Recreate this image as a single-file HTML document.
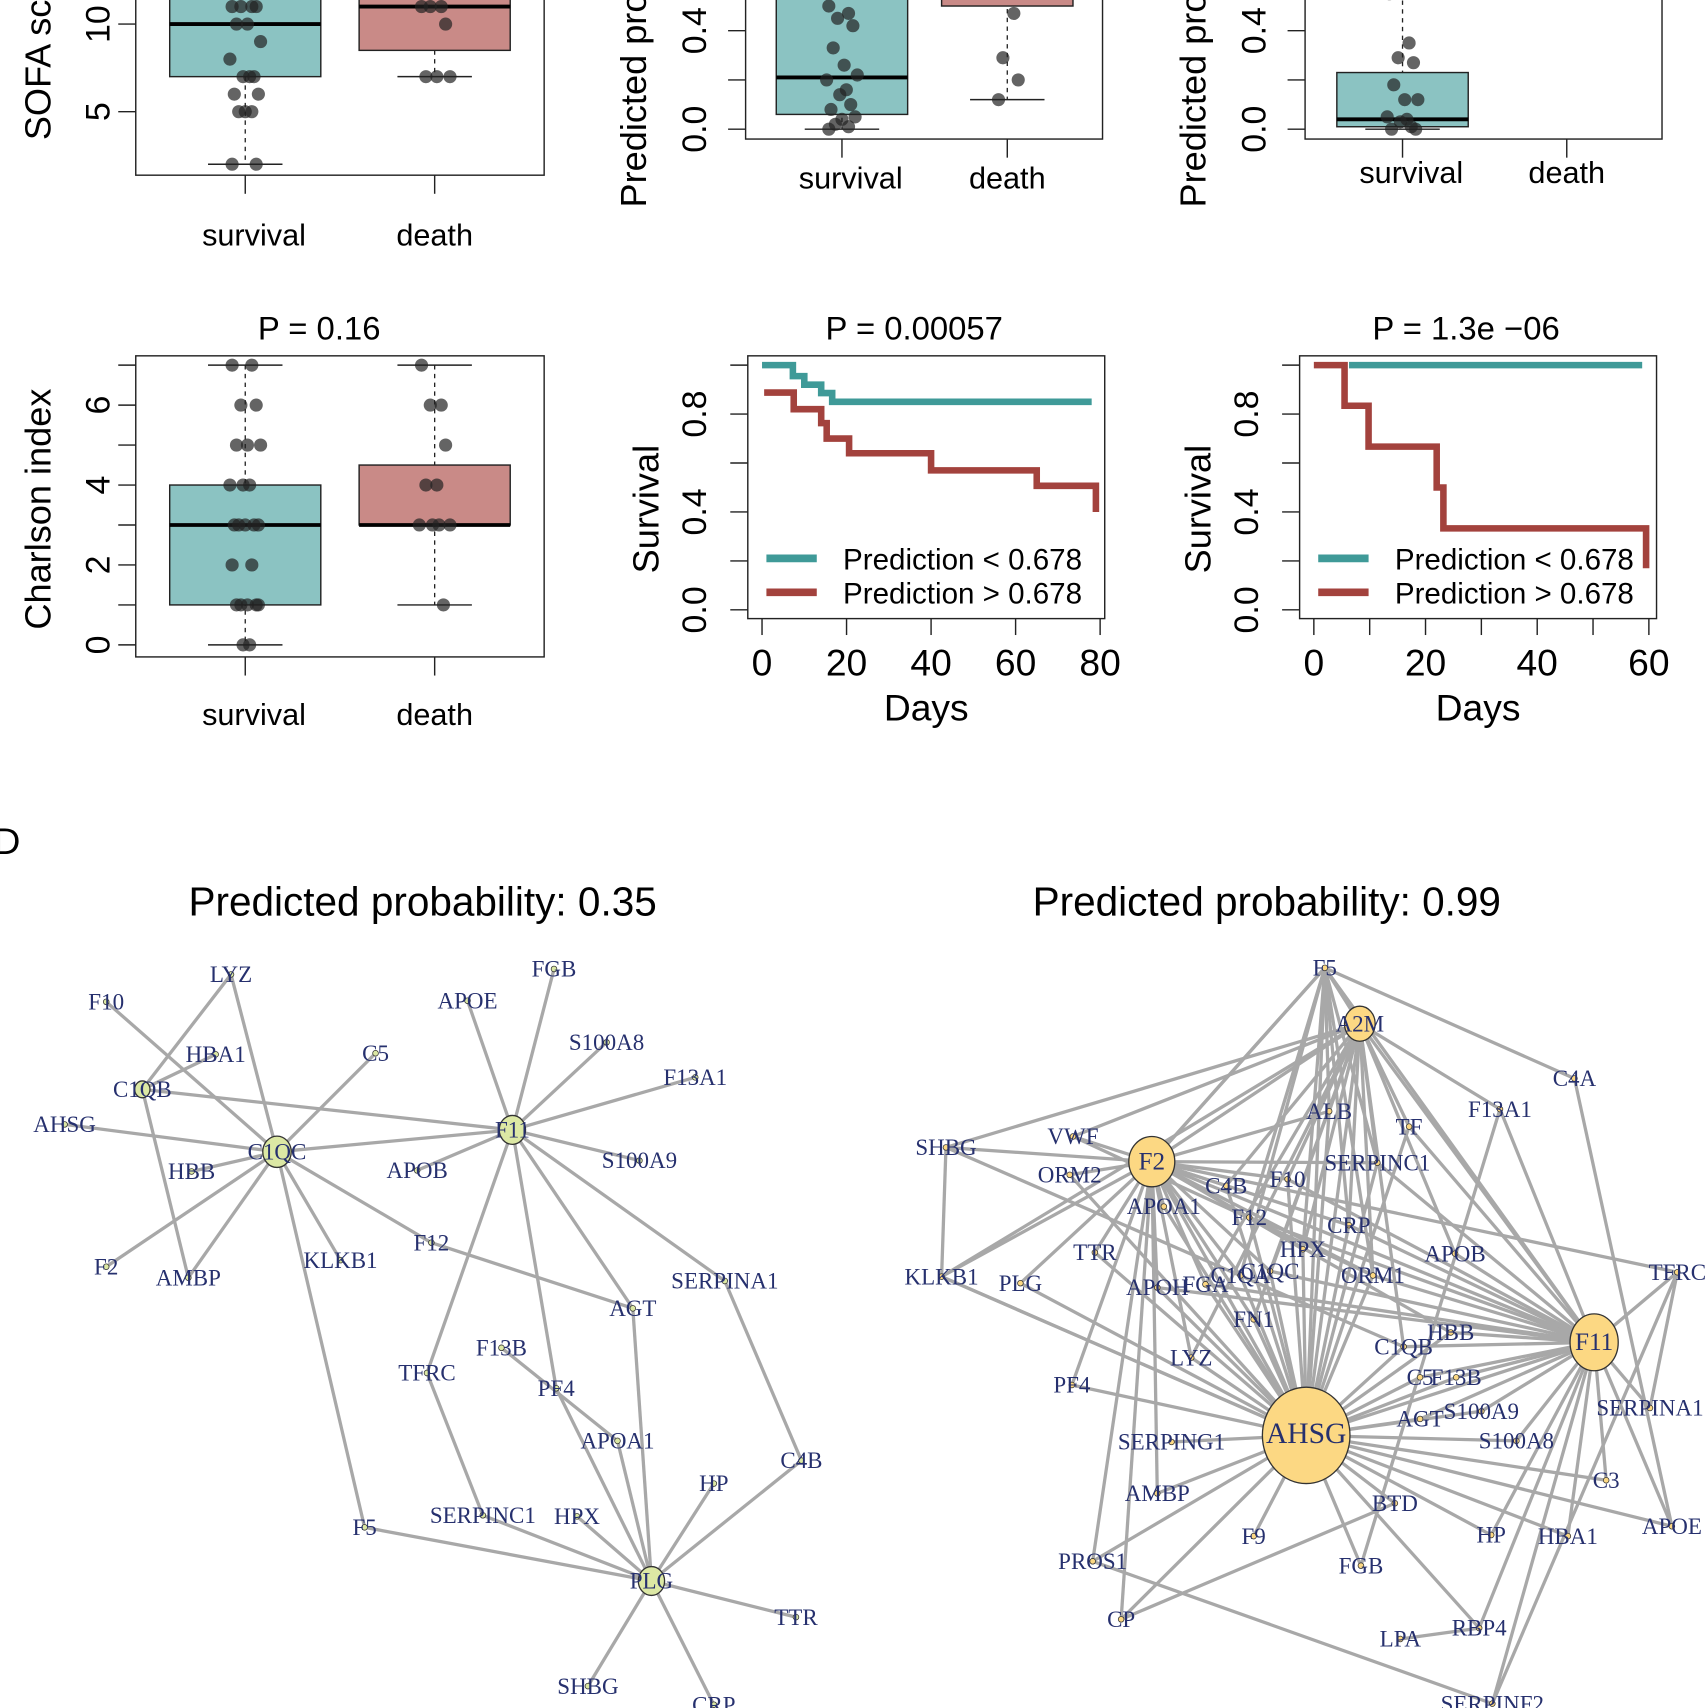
<!DOCTYPE html>
<html><head><meta charset="utf-8"><style>
html,body{margin:0;padding:0;background:#fff}
svg{display:block}
</style></head><body>
<svg id="fig" xmlns="http://www.w3.org/2000/svg" width="1708" height="1708" viewBox="0 0 1560 1560" font-family="Liberation Sans, sans-serif">
<text x="-6" y="780" font-size="34">D</text>
<text x="386" y="836" font-size="37" text-anchor="middle">Predicted probability: 0.35</text>
<text x="1157" y="836" font-size="37" text-anchor="middle">Predicted probability: 0.99</text>
</svg>
<script>
const NS='http://www.w3.org/2000/svg';
const svg=document.getElementById('fig');
function mk(tag,attrs,name,parent){
  const el=document.createElementNS(NS,tag);
  for(const k in attrs) el.setAttribute(k,attrs[k]);
  
  
  (parent||svg).appendChild(el);
  return el;
}
function txt(x,y,s,size,name,extra){
  const t=mk('text',Object.assign({x:x,y:y,'font-size':size},extra||{}),name);
  t.textContent=s;return t;
}

// ---------- Box plot data ----------
const sofaSurv=[11,11,11,11,10,10,9,8,7,7,7,6,6,5,5,5,2,2];
const sofaDeath=[11,11,11,10,7,7,7];
const sofaStats={s:[2,7,10,14,14],d:[7,8.5,11,14,14]};
const p2Surv=[0.5,0.47,0.45,0.42,0.33,0.26,0.22,0.2,0.16,0.14,0.1,0.08,0.05,0.04,0.02,0.01,0.0];
const p2Death=[0.56,0.47,0.29,0.2,0.12];
const p2Stats={s:[0,0.06,0.21,0.9,0.9],d:[0.12,0.5,0.9,0.95,0.95]};
const p3Surv=[0.55,0.35,0.29,0.27,0.18,0.12,0.12,0.05,0.04,0.03,0.01,0.0,0.0];
const p3Death=[];
const p3Stats={s:[0,0.01,0.04,0.23,0.7],d:null};
const chSurv=[7,7,6,6,5,5,5,4,4,4,3,3,3,3,3,2,2,1,1,1,1,1,0,0];
const chDeath=[7,6,6,5,4,4,3,3,3,3,1];
const chStats={s:[0,1,3,4,7],d:[1,3,3,4.5,7]};
const jit=[-12,6,-4,10,-8,2,14,-14,4,-2,8,-10,12,0,-6,6,-12,10,-4,2,-8,12,-2,4];

function boxPanel(o){
  const y=v=>o.y0-(v-o.v0)*o.k;
  mk('rect',{x:o.fx0,y:o.fy0,width:o.fx1-o.fx0,height:o.fy1-o.fy0,fill:'none',stroke:'#222','stroke-width':1.3},o.id+'-frame');
  const groups=[{st:o.st.s,pts:o.sv,cx:o.cx[0],fill:'#8bc3c2',n:'survival'},{st:o.st.d,pts:o.dv,cx:o.cx[1],fill:'#c98a87',n:'death'}];
  const clipId=o.id+'clip';
  const cp=mk('clipPath',{id:clipId},o.id+'-clip');
  mk('rect',{x:o.fx0,y:-200,width:o.fx1-o.fx0,height:o.fy1+200},o.id+'-clip-rect',cp);
  const g=mk('g',{'clip-path':'url(#'+clipId+')'},o.id+'-plot');
  groups.forEach(gr=>{
    if(gr.st){
      const [lo,q1,md,q3,hi]=gr.st;
      mk('line',{x1:gr.cx,x2:gr.cx,y1:y(hi),y2:y(lo),stroke:'#222','stroke-dasharray':'4,4','stroke-width':1.2},o.id+'-whisker-'+gr.n,g);
      mk('line',{x1:gr.cx-34,x2:gr.cx+34,y1:y(lo),y2:y(lo),stroke:'#222','stroke-width':1.3},o.id+'-whisker-cap-low-'+gr.n,g);
      mk('line',{x1:gr.cx-34,x2:gr.cx+34,y1:y(hi),y2:y(hi),stroke:'#222','stroke-width':1.3},o.id+'-whisker-cap-high-'+gr.n,g);
      mk('rect',{x:gr.cx-o.bw,y:y(q3),width:2*o.bw,height:y(q1)-y(q3),fill:gr.fill,stroke:'#222','stroke-width':1.3},o.id+'-box-'+gr.n,g);
      mk('line',{x1:gr.cx-o.bw,x2:gr.cx+o.bw,y1:y(md),y2:y(md),stroke:'#000','stroke-width':3.5},o.id+'-median-'+gr.n,g);
    }
    gr.pts.forEach((v,i)=>{
      mk('circle',{cx:gr.cx+jit[i%jit.length],cy:y(v),r:6,fill:'#222','fill-opacity':0.7},o.id+'-point-'+gr.n,g);
    });
  });
  o.ticks.forEach(t=>{
    mk('line',{x1:o.fx0,x2:o.fx0-16,y1:y(t),y2:y(t),stroke:'#222','stroke-width':1.3},o.id+'-y-tick');
  });
  o.tlabels.forEach(t=>{
    txt(o.tlx,y(t),o.fmt(t),31,o.id+'-y-tick-label',{transform:'rotate(-90 '+o.tlx+' '+y(t)+')','text-anchor':'middle'});
  });
  o.cx.forEach((c,i)=>{
    mk('line',{x1:c,x2:c,y1:o.fy1,y2:o.fy1+17,stroke:'#222','stroke-width':1.3},o.id+'-x-tick');
    txt(c+(i==0?8:0),o.catY,o.cats[i],28,o.id+'-x-tick-label',{'text-anchor':'middle'});
  });
  txt(o.ylx,o.yly,o.ylab,33,o.id+'-y-axis-title',{transform:'rotate(-90 '+o.ylx+' '+o.yly+')','text-anchor':'middle'});
  if(o.title) txt((o.fx0+o.fx1)/2-19,310,o.title,30,o.id+'-title',{'text-anchor':'middle'});
}
const cats=['survival','death'];
boxPanel({id:'sofa',fx0:124,fx1:497,fy0:-120,fy1:160,y0:102,v0:5,k:16,cx:[224,397],bw:69,st:sofaStats,sv:sofaSurv,dv:sofaDeath,ticks:[5,10],tlabels:[5,10],fmt:v=>String(v),tlx:100,catY:224,cats:cats,ylx:46,yly:40,ylab:'SOFA score'});
boxPanel({id:'prob1',fx0:681,fx1:1007,fy0:-120,fy1:127,y0:118,v0:0,k:225,cx:[769,920],bw:60,st:p2Stats,sv:p2Surv,dv:p2Death,ticks:[0,0.2,0.4],tlabels:[0,0.4],fmt:v=>v.toFixed(1),tlx:645,catY:172,cats:cats,ylx:590,yly:40,ylab:'Predicted probability'});
boxPanel({id:'prob2',fx0:1192,fx1:1518,fy0:-120,fy1:127,y0:118,v0:0,k:225,cx:[1281,1431],bw:60,st:p3Stats,sv:p3Surv,dv:p3Death,ticks:[0,0.2,0.4],tlabels:[0,0.4],fmt:v=>v.toFixed(1),tlx:1156,catY:167,cats:cats,ylx:1101,yly:40,ylab:'Predicted probability'});
boxPanel({id:'charlson',fx0:124,fx1:497,fy0:325,fy1:600,y0:589,v0:0,k:36.5,cx:[224,397],bw:69,st:chStats,sv:chSurv,dv:chDeath,ticks:[0,1,2,3,4,5,6,7],tlabels:[0,2,4,6],fmt:v=>String(v),tlx:100,catY:662,cats:cats,ylx:46,yly:465,ylab:'Charlson index',title:'P = 0.16'});

// ---------- KM data ----------
const km1Days=[0,7.3,10,14,16.6,78];
const km1Low=[1.0,0.955,0.92,0.886,0.85,0.85];
const km1HighDays=[0.5,7.5,14,15.3,20.6,40,65,79,79];
const km1High=[0.888,0.82,0.763,0.70,0.64,0.57,0.507,0.44,0.40];
const km2Days=[6.3,58.8];
const km2Low=[1.0,1.0];
const km2HighDays=[0,5.5,9.8,22,23.2,59.5,59.5];
const km2High=[1.0,0.834,0.667,0.5,0.333,0.333,0.17];

function kmPanel(o){
  const x=d=>o.x0+d*o.kx, y=v=>557-v*223.5;
  mk('rect',{x:o.fx0,y:325,width:326,height:240,fill:'none',stroke:'#222','stroke-width':1.3},o.id+'-frame');
  [0,0.2,0.4,0.6,0.8,1.0].forEach(t=>mk('line',{x1:o.fx0,x2:o.fx0-16,y1:y(t),y2:y(t),stroke:'#222','stroke-width':1.3},o.id+'-y-tick'));
  [0,0.4,0.8].forEach(t=>{const yy=y(t);txt(o.fx0-38,yy,t.toFixed(1),31,o.id+'-y-tick-label',{transform:'rotate(-90 '+(o.fx0-38)+' '+yy+')','text-anchor':'middle'});});
  o.xt.forEach(t=>mk('line',{x1:x(t),x2:x(t),y1:565,y2:580,stroke:'#222','stroke-width':1.3},o.id+'-x-tick'));
  o.xl.forEach(t=>txt(x(t),617,String(t),34,o.id+'-x-tick-label',{'text-anchor':'middle'}));
  txt(o.fx0+163,658,'Days',34,o.id+'-x-axis-title',{'text-anchor':'middle'});
  const ylx=o.fx0-93, yly=465;
  txt(ylx,yly,'Survival',33,o.id+'-y-axis-title',{transform:'rotate(-90 '+ylx+' '+yly+')','text-anchor':'middle','dominant-baseline':'central'});
  txt(o.fx0+152,310,o.title,30,o.id+'-title',{'text-anchor':'middle'});
  function step(days,vals,col,name){
    let d='M'+x(days[0])+' '+y(vals[0]);
    for(let i=1;i<days.length;i++){d+=' H'+x(days[i])+' V'+y(vals[i]);}
    mk('path',{d:d,fill:'none',stroke:col,'stroke-width':6},o.id+'-'+name);
  }
  step(o.ld,o.lv,'#3f9a98','curve-low');
  step(o.hd,o.hv,'#a3423d','curve-high');
  const lx=o.fx0+17;
  mk('line',{x1:lx,x2:lx+46,y1:510,y2:510,stroke:'#3f9a98','stroke-width':7},o.id+'-legend-low-swatch');
  mk('line',{x1:lx,x2:lx+46,y1:541,y2:541,stroke:'#a3423d','stroke-width':7},o.id+'-legend-high-swatch');
  txt(lx+70,520,'Prediction < 0.678',27,o.id+'-legend-low');
  txt(lx+70,551,'Prediction > 0.678',27,o.id+'-legend-high');
}
kmPanel({id:'km1',fx0:683,x0:696,kx:3.86,xt:[0,20,40,60,80],xl:[0,20,40,60,80],title:'P = 0.00057',ld:km1Days,lv:km1Low,hd:km1HighDays,hv:km1High});
kmPanel({id:'km2',fx0:1187,x0:1200,kx:5.1,xt:[0,10,20,30,40,50,60],xl:[0,20,40,60],title:'P = 1.3e  \u221206',ld:km2Days,lv:km2Low,hd:km2HighDays,hv:km2High});

// ---------- Networks ----------
const leftNodes={LYZ:[211,890],F10:[97,915],FGB:[506,885],APOE:[427,914],S100A8:[554,952],HBA1:[197,963],C5:[343,962],F13A1:[635,984],C1QB:[130,995],AHSG:[59,1027],F11:[468,1032],C1QC:[253,1052],HBB:[175,1070],APOB:[381,1069],S100A9:[584,1060],F12:[394,1135],KLKB1:[311,1151],F2:[97,1157],AMBP:[172,1167],SERPINA1:[662,1170],AGT:[578,1195],F13B:[458,1231],TFRC:[390,1254],PF4:[508,1268],APOA1:[564,1316],C4B:[732,1334],HP:[652,1355],F5:[333,1395],SERPINC1:[441,1384],HPX:[527,1385],PLG:[595,1444],TTR:[727,1477],SHBG:[537,1540],CRP:[652,1557]};
const leftBig={C1QC:13,F11:12,PLG:12,C1QB:7};
const leftEdges=[['LYZ','C1QB'],['LYZ','C1QC'],['F10','C1QC'],['HBA1','C1QB'],['C1QB','F11'],['C1QB','AMBP'],['AHSG','C1QC'],['C1QC','F11'],['C1QC','C5'],['C1QC','F2'],['C1QC','AMBP'],['C1QC','KLKB1'],['C1QC','F12'],['C1QC','F5'],['C1QC','HBB'],['F12','AGT'],['F11','APOE'],['F11','FGB'],['F11','S100A8'],['F11','F13A1'],['F11','S100A9'],['F11','APOB'],['F11','TFRC'],['F11','PF4'],['F11','AGT'],['F11','SERPINA1'],['SERPINA1','C4B'],['PLG','AGT'],['PLG','C4B'],['PLG','HP'],['PLG','F5'],['PLG','SERPINC1'],['PLG','HPX'],['PLG','APOA1'],['PLG','TTR'],['PLG','SHBG'],['PLG','CRP'],['PLG','PF4'],['F13B','APOA1'],['TFRC','SERPINC1']];

const rightNodes={F5:[1210,884],A2M:[1242,935],C4A:[1438,985],ALB:[1214,1015],TF:[1287,1029],F13A1:[1370,1013],SHBG:[864,1048],VWF:[980,1038],F2:[1052,1061],ORM2:[977,1073],C4B:[1120,1083],F10:[1176,1077],SERPINC1:[1258,1062],APOA1:[1063,1102],F12:[1141,1112],CRP:[1232,1119],HPX:[1190,1141],TTR:[1000,1144],APOB:[1329,1145],TFRC:[1532,1162],KLKB1:[860,1166],PLG:[932,1172],APOH:[1057,1176],FGA:[1101,1173],C1QA:[1133,1165],C1QC:[1160,1161],ORM1:[1254,1165],FN1:[1145,1205],F11:[1456,1226],HBB:[1325,1217],C1QB:[1282,1230],LYZ:[1088,1240],C5:[1297,1258],F13B:[1330,1258],PF4:[979,1265],AGT:[1297,1296],S100A9:[1353,1289],SERPINA1:[1507,1286],AHSG:[1193,1311],SERPING1:[1070,1317],S100A8:[1385,1316],C3:[1467,1352],AMBP:[1057,1364],BTD:[1274,1373],F9:[1145,1403],HP:[1362,1402],HBA1:[1432,1403],APOE:[1527,1394],PROS1:[998,1426],FGB:[1243,1430],CP:[1024,1479],LPA:[1279,1497],RBP4:[1351,1487],SERPINF2:[1363,1556]};
const rightBig={AHSG:[40,44],F2:[21,23],F11:[22,26],A2M:[14,16]};
const ahsgLinks=['A2M','F5','ALB','TF','F2','C4B','F10','SERPINC1','APOA1','F12','CRP','HPX','TTR','PLG','APOH','FGA','C1QA','C1QC','ORM1','FN1','F11','HBB','C1QB','LYZ','C5','F13B','PF4','AGT','S100A9','SERPING1','S100A8','C3','AMBP','BTD','F9','HP','HBA1','APOE','PROS1','FGB','CP','RBP4','KLKB1','ORM2'];
const f2Links=['SHBG','VWF','ORM2','KLKB1','A2M','ALB','F5','SERPINC1','F10','C4B','APOA1','F12','CRP','HPX','FGA','C1QA','C1QC','ORM1','FN1','TTR','PLG','APOH','LYZ','CP','PROS1','AMBP','HBB','F11','TFRC'];
const f11Links=['A2M','F5','TF','F13A1','SERPINC1','APOB','TFRC','HBB','C1QB','C5','F13B','AGT','S100A9','SERPINA1','S100A8','C3','HP','HBA1','APOE','RBP4','SERPINF2','FGA','C1QC','ORM1','F10','F12','CRP','APOH'];
const a2mLinks=['F5','SHBG','KLKB1','VWF','ALB','TF','F13A1','SERPINC1','F10','C4B','CRP','HPX','C1QC','FN1','C1QB','APOB','ORM1','FGA','LYZ'];
const f5Links=['C4A','ALB','F12','HPX','C1QA','SERPINC1','ORM1','CRP','F2'];
const otherEdges=[['SHBG','KLKB1'],['SHBG','C1QB'],['KLKB1','AHSG'],['C4A','APOE'],['TFRC','SERPINF2'],['SERPINA1','TFRC'],['PROS1','SERPINF2'],['LPA','RBP4'],['BTD','CP'],['F13A1','FGB'],['PF4','F2'],['VWF','ORM1']];

function drawNet(nodes,edges,big,fill,prefix){
  const g=mk('g',{},prefix+'-edges');
  edges.forEach(e=>{
    const a=nodes[e[0]],b=nodes[e[1]];
    mk('line',{x1:a[0],y1:a[1],x2:b[0],y2:b[1],stroke:'#a8a8a8','stroke-width':3},prefix+'-edge-'+e[0]+'-'+e[1],g);
  });
  for(const k in nodes){
    const p=nodes[k];
    const r=big[k];
    const rx=r?(Array.isArray(r)?r[0]:r):2.6, ry=r?(Array.isArray(r)?r[1]:r*1.1):2.6;
    mk('ellipse',{cx:p[0],cy:p[1],rx:rx,ry:ry,fill:fill,stroke:'#333','stroke-width':r?1.2:0.7},prefix+'-node-'+k.toLowerCase());
    txt(p[0],p[1]+7,k,r&&rx>20?(rx>30?27:23):21,prefix+'-label-'+k.toLowerCase(),{'text-anchor':'middle','font-family':'Liberation Serif, serif',fill:'#26306e'});
  }
}
drawNet(leftNodes,leftEdges,leftBig,'#dce8a4','left-net');
const rightEdges=[];
ahsgLinks.forEach(n=>rightEdges.push(['AHSG',n]));
f2Links.forEach(n=>rightEdges.push(['F2',n]));
f11Links.forEach(n=>rightEdges.push(['F11',n]));
a2mLinks.forEach(n=>rightEdges.push(['A2M',n]));
f5Links.forEach(n=>rightEdges.push(['F5',n]));
otherEdges.forEach(e=>rightEdges.push(e));
drawNet(rightNodes,rightEdges,rightBig,'#fcd883','right-net');
</script>
</body></html>
